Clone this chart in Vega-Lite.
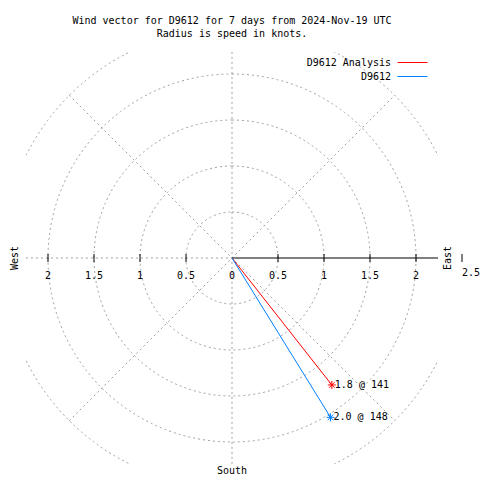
{
  "$schema": "https://vega.github.io/schema/vega-lite/v6.json",
  "width": 412,
  "height": 412,
  "autosize": {"type": "none"},
  "padding": {"left": 26, "top": 52, "right": 42, "bottom": 16},
  "background": "white",
  "title": {
    "text": ["Wind vector for D9612 for 7 days from 2024-Nov-19 UTC", "Radius is speed in knots."],
    "font": "DejaVu Sans Mono",
    "fontSize": 10,
    "fontWeight": "normal",
    "lineHeight": 13,
    "anchor": "middle",
    "color": "black",
    "offset": 12
  },
  "config": {
    "view": {"stroke": null},
    "text": {"font": "DejaVu Sans Mono", "fontSize": 10, "color": "black"}
  },
  "data": {"values": [{}]},
  "layer": [
    {
      "data": {"values": [{"r": 0.5}, {"r": 1}, {"r": 1.5}, {"r": 2}, {"r": 2.5}]},
      "mark": {"type": "arc", "theta": 0, "theta2": 6.2832, "filled": false, "fill": null, "stroke": "#a0a0a0", "strokeWidth": 1, "strokeDash": [2, 3], "clip": true},
      "encoding": {
        "x": {"datum": 0, "type": "quantitative", "scale": {"domain": [-2.2391, 2.2391], "nice": false, "zero": false}, "axis": null},
        "y": {"datum": 0, "type": "quantitative", "scale": {"domain": [-2.2391, 2.2391], "nice": false, "zero": false}, "axis": null},
        "radius": {"field": "r", "type": "quantitative", "stack": null, "scale": {"type": "linear", "domain": [0, 2.5], "range": [0, 230], "zero": true}, "legend": null}
      }
    },
    {
      "data": {"values": [
        {"x": 0, "y": 2.24, "x2": 0, "y2": -2.24},
        {"x": -2.24, "y": 0, "x2": 0, "y2": 0},
        {"x": -1.77, "y": 1.77, "x2": 1.77, "y2": -1.77},
        {"x": -1.77, "y": -1.77, "x2": 1.77, "y2": 1.77}
      ]},
      "mark": {"type": "rule", "stroke": "#a0a0a0", "strokeWidth": 1, "strokeDash": [2, 3]},
      "encoding": {
        "x": {"field": "x", "type": "quantitative"},
        "y": {"field": "y", "type": "quantitative"},
        "x2": {"field": "x2"},
        "y2": {"field": "y2"}
      }
    },
    {
      "mark": {"type": "rule", "stroke": "black", "strokeWidth": 1},
      "encoding": {
        "x": {"datum": 0, "type": "quantitative"},
        "x2": {"datum": 2.2391},
        "y": {"datum": 0, "type": "quantitative"}
      }
    },
    {
      "data": {"values": [{"t": -2}, {"t": -1.5}, {"t": -1}, {"t": -0.5}, {"t": 0.5}, {"t": 1}, {"t": 1.5}, {"t": 2}, {"t": 2.5}]},
      "mark": {"type": "tick", "orient": "vertical", "size": 8, "thickness": 1, "color": "black", "opacity": 1},
      "encoding": {
        "x": {"field": "t", "type": "quantitative"},
        "y": {"datum": 0, "type": "quantitative"}
      }
    },
    {
      "data": {"values": [
        {"t": -2, "label": "2"}, {"t": -1.5, "label": "1.5"}, {"t": -1, "label": "1"}, {"t": -0.5, "label": "0.5"},
        {"t": 0, "label": "0"}, {"t": 0.5, "label": "0.5"}, {"t": 1, "label": "1"}, {"t": 1.5, "label": "1.5"}, {"t": 2, "label": "2"}
      ]},
      "mark": {"type": "text", "align": "center", "baseline": "middle", "dy": 18},
      "encoding": {
        "x": {"field": "t", "type": "quantitative"},
        "y": {"datum": 0, "type": "quantitative"},
        "text": {"field": "label", "type": "nominal"}
      }
    },
    {
      "mark": {"type": "text", "align": "left", "baseline": "middle", "dy": 15, "text": "2.5"},
      "encoding": {
        "x": {"datum": 2.5, "type": "quantitative"},
        "y": {"datum": 0, "type": "quantitative"}
      }
    },
    {
      "mark": {"type": "text", "align": "center", "baseline": "middle", "angle": 270, "text": "West"},
      "encoding": {
        "x": {"datum": -2.364, "type": "quantitative"},
        "y": {"datum": 0, "type": "quantitative"}
      }
    },
    {
      "mark": {"type": "text", "align": "center", "baseline": "middle", "angle": 270, "text": "East"},
      "encoding": {
        "x": {"datum": 2.348, "type": "quantitative"},
        "y": {"datum": 0, "type": "quantitative"}
      }
    },
    {
      "mark": {"type": "text", "align": "center", "baseline": "middle", "text": "South"},
      "encoding": {
        "x": {"datum": 0, "type": "quantitative"},
        "y": {"datum": -2.31, "type": "quantitative"}
      }
    },
    {
      "data": {"values": [
        {"series": "D9612 Analysis", "u": 1.085, "v": -1.38, "label": "1.8 @ 141"},
        {"series": "D9612", "u": 1.071, "v": -1.732, "label": "2.0 @ 148"}
      ]},
      "mark": {"type": "rule", "strokeWidth": 1},
      "encoding": {
        "x": {"field": "u", "type": "quantitative"},
        "y": {"field": "v", "type": "quantitative"},
        "x2": {"datum": 0},
        "y2": {"datum": 0},
        "color": {
          "field": "series",
          "type": "nominal",
          "scale": {"domain": ["D9612 Analysis", "D9612"], "range": ["#ff0000", "#0080ff"]},
          "legend": {
            "title": null,
            "orient": "none",
            "legendX": 381,
            "legendY": 5,
            "padding": 0,
            "symbolType": "M-3,0L3,0",
            "symbolSize": 100,
            "symbolStrokeWidth": 1,
            "labelAlign": "right",
            "labelOffset": -27,
            "labelFont": "DejaVu Sans Mono",
            "labelFontSize": 10,
            "labelColor": "black",
            "labelLimit": 0,
            "rowPadding": 3,
            "encode": {
              "symbols": {
                "update": {
                  "stroke": {"scale": "color", "field": "value"},
                  "strokeOpacity": {"value": 1},
                  "fill": {"value": "transparent"}
                }
              }
            }
          }
        }
      }
    },
    {
      "data": {"values": [
        {"series": "D9612 Analysis", "u": 1.085, "v": -1.38, "label": "1.8 @ 141"},
        {"series": "D9612", "u": 1.071, "v": -1.732, "label": "2.0 @ 148"}
      ]},
      "mark": {"type": "point", "shape": "M-1,0L1,0M0,-1L0,1M-0.7,-0.7L0.7,0.7M-0.7,0.7L0.7,-0.7", "filled": false, "size": 64, "strokeWidth": 1, "opacity": 1},
      "encoding": {
        "x": {"field": "u", "type": "quantitative"},
        "y": {"field": "v", "type": "quantitative"},
        "color": {"field": "series", "type": "nominal", "legend": null}
      }
    },
    {
      "data": {"values": [
        {"series": "D9612 Analysis", "u": 1.085, "v": -1.38, "label": "1.8 @ 141"},
        {"series": "D9612", "u": 1.071, "v": -1.732, "label": "2.0 @ 148"}
      ]},
      "mark": {"type": "text", "align": "left", "baseline": "middle", "dx": 3},
      "encoding": {
        "x": {"field": "u", "type": "quantitative"},
        "y": {"field": "v", "type": "quantitative"},
        "text": {"field": "label", "type": "nominal"}
      }
    }
  ]
}
